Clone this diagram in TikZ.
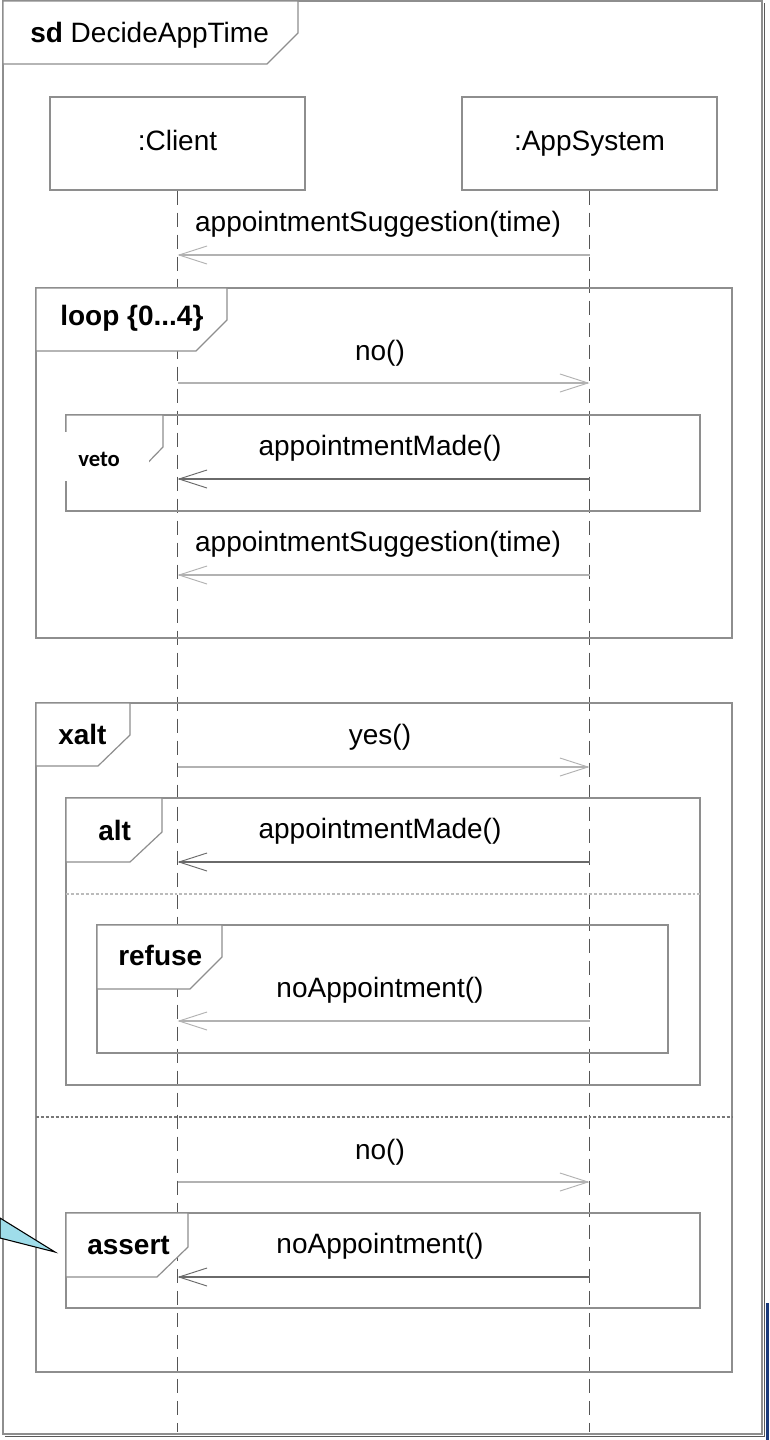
\documentclass[tikz,border=0pt]{standalone}
\usepackage{fontspec}
\setmainfont{Liberation Sans}
\newfontfamily\vetofont{Carlito}
\usetikzlibrary{arrows.meta}

\definecolor{framegray}{HTML}{8E8E8E}
\definecolor{shadowgray}{HTML}{5A5A5A}
\definecolor{msglight}{HTML}{B2B2B2}
\definecolor{msgdark}{HTML}{6A6A6A}
\definecolor{lifegray}{HTML}{555555}
\definecolor{calloutcyan}{HTML}{9FDDEA}
\definecolor{navybar}{HTML}{1B3A7A}
\definecolor{sepdark}{HTML}{777777}
\definecolor{seplight}{HTML}{BBBBBB}

\tikzset{
  umlfont/.style={font=\fontsize{21}{25}\selectfont},
  fragbox/.style={draw=framegray, line width=1.1pt},
  tabline/.style={draw=framegray, line width=0.9pt, fill=white},
  headbox/.style={draw=framegray, line width=1.1pt, fill=white, inner sep=0pt,
    minimum width=191.25pt, minimum height=69.75pt, umlfont,
    text height=15pt, text depth=4pt},
  lifeline/.style={draw=lifegray, line width=0.9pt, dash pattern=on 10.5pt off 6pt},
  msgbase/.style={line width=1.1pt,
    -{Straight Barb[length=21pt, width=13.5pt, line width=0.7pt]}},
  msg/.style={msgbase, draw=msglight},
  msgstrong/.style={msgbase, draw=msgdark, line width=1.3pt},
  msglabel/.style={umlfont, anchor=base, inner sep=0pt},
  taglabel/.style={umlfont, font=\fontsize{21}{25}\selectfont\bfseries, anchor=west, inner sep=0pt},
}

\begin{document}
\begin{tikzpicture}[x=0.75pt, y=-0.75pt]
  \useasboundingbox (0,0) rectangle (769,1440);
  \fill[white] (0,0) rectangle (769,1440);

  % outer sd frame with its shadow
  \draw[shadowgray, line width=1.1pt] (764.5,3) -- (764.5,1436.5) -- (5,1436.5);
  \draw[fragbox] (3,1) rectangle (762,1434);
  \draw[tabline] (3,1) -- (298,1) -- (298,33) -- (267,64) -- (3,64) -- cycle;
  \node[umlfont, anchor=base west, inner sep=0pt] (sdlabel) at (30,42)
    {\textbf{sd} DecideAppTime};

  % lifeline heads
  \node[headbox] (client) at (177.5,143.5) {:Client};
  \node[headbox] (appsys) at (589.5,143.5) {:AppSystem};
  \coordinate (clientend) at (177.5,1432);
  \coordinate (appsysend) at (589.5,1432);
  \draw[lifeline] (client.south) -- (clientend);
  \draw[lifeline] (appsys.south) -- (appsysend);

  % anchor points of the messages on both lifelines
  \foreach \n/\y in {m1/255, m2/383, m3/479, m4/575, m5/767, m6/862, m7/1021, m8/1182, m9/1277} {
    \coordinate (\n c) at (177.5,\y);
    \coordinate (\n a) at (589.5,\y);
  }

  % first suggestion
  \draw[msg] (m1a) -- (m1c);
  \node[msglabel] (l1) at (378,231) {appointmentSuggestion(time)};

  % loop fragment
  \draw[fragbox] (36,288) rectangle (732,638);
  \draw[tabline] (36,288) -- (227,288) -- (227,320) -- (196,351) -- (36,351) -- cycle;
  \node[taglabel] (looptag) at (60,318) {loop \{0...4\}};

  \draw[msg] (m2c) -- (m2a);
  \node[msglabel] (l2) at (380,360) {no()};

  % veto fragment
  \draw[fragbox] (66,415) rectangle (700,511);
  \draw[tabline] (66,415) -- (163,415) -- (163,447) -- (132,479) -- (66,479) -- cycle;
  \fill[white] (60,432) rectangle (149,481);
  \node[font=\vetofont\fontsize{17}{20}\selectfont\bfseries, anchor=west, inner sep=0pt]
    (vetotag) at (78,459) {veto};

  \draw[msgstrong] (m3a) -- (m3c);
  \node[msglabel] (l3) at (380,455) {appointmentMade()};

  \draw[msg] (m4a) -- (m4c);
  \node[msglabel] (l4) at (378,551) {appointmentSuggestion(time)};

  % xalt fragment
  \draw[fragbox] (36,703) rectangle (732,1372);
  \draw[tabline] (36,703) -- (130,703) -- (130,735) -- (98,766) -- (36,766) -- cycle;
  \node[taglabel] (xalttag) at (58,734) {xalt};
  \draw[sepdark, line width=1pt, dash pattern=on 2.2pt off 1.5pt] (36,1117) -- (732,1117);

  \draw[msg] (m5c) -- (m5a);
  \node[msglabel] (l5) at (380,744) {yes()};

  % alt fragment
  \draw[fragbox] (66,798) rectangle (700,1085);
  \draw[tabline] (66,798) -- (162,798) -- (162,832) -- (130,862) -- (66,862) -- cycle;
  \node[taglabel] (alttag) at (98,830) {alt};
  \draw[seplight, line width=1pt, dash pattern=on 2.2pt off 1.5pt] (66,894) -- (700,894);

  \draw[msgstrong] (m6a) -- (m6c);
  \node[msglabel] (l6) at (380,838) {appointmentMade()};

  % refuse fragment
  \draw[fragbox] (97,925) rectangle (668,1053);
  \draw[tabline] (97,925) -- (222,925) -- (222,957) -- (190,989) -- (97,989) -- cycle;
  \node[taglabel] (refusetag) at (118,955) {refuse};

  \draw[msg] (m7a) -- (m7c);
  \node[msglabel] (l7) at (380,997) {noAppointment()};

  \draw[msg] (m8c) -- (m8a);
  \node[msglabel] (l8) at (380,1159) {no()};

  % assert fragment
  \draw[fragbox] (66,1213) rectangle (700,1308);
  \draw[tabline] (66,1213) -- (188,1213) -- (188,1247) -- (157,1277) -- (66,1277) -- cycle;
  \node[taglabel] (asserttag) at (87,1245) {assert};

  \draw[msgstrong] (m9a) -- (m9c);
  \node[msglabel] (l9) at (380,1253) {noAppointment()};

  % callout pointer and side bar
  \filldraw[fill=calloutcyan, draw=black, line width=0.8pt]
    (0,1218) -- (55,1252) -- (0,1238) -- cycle;
  \fill[navybar] (766,1303) rectangle (769,1440);
\end{tikzpicture}
\end{document}
